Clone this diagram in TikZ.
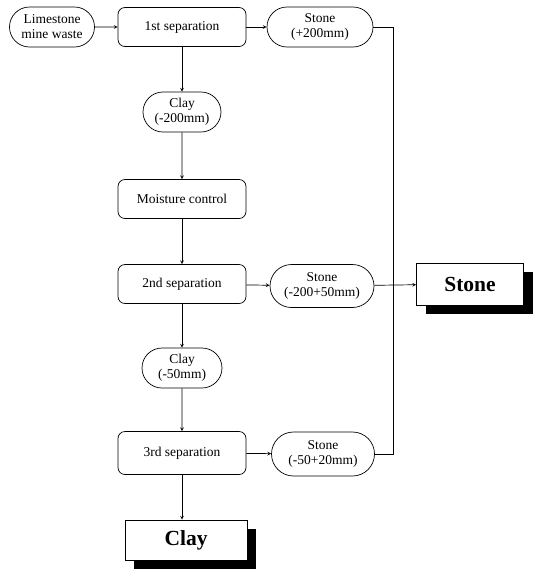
\documentclass[tikz,border=0pt]{standalone}
\usepackage{fontspec}
\setmainfont{Liberation Serif}
\usepackage{tikz}
\usetikzlibrary{positioning,arrows,shapes.misc,shadows}

\begin{document}
\begin{tikzpicture}[x=1pt,y=-1pt,>=stealth,line width=0.7pt,
	font=\fontsize{13.5}{15}\selectfont,
	proc/.style={draw,rounded corners=7pt,minimum width=128pt,minimum height=39pt},
	prod/.style={draw,rounded rectangle,align=center,minimum height=40pt,inner sep=2pt},
	final/.style={draw,fill=white,minimum width=112pt,minimum height=42pt,font=\fontsize{21.5}{24}\selectfont\bfseries,
		drop shadow={shadow xshift=9pt,shadow yshift=-9pt,fill=black,opacity=1}}]
	\useasboundingbox (0,0) rectangle (535,571);

	\node[prod,minimum width=89pt] (lime) at (52,27) {Limestone\\mine waste};
	\node[proc] (sep1) at (182,27) {1st separation};
	\node[prod,minimum width=110pt] (st1) at (320,27) {Stone\\(+200mm)};
	\node[prod,minimum width=82pt] (clay1) at (182,112) {Clay\\(-200mm)};
	\node[proc] (moist) at (182,199) {Moisture control};
	\node[proc] (sep2) at (182,284) {2nd separation};
	\node[prod,minimum width=108pt,minimum height=43pt] (st2) at (322,286) {Stone\\(-200+50mm)};
	\node[final,minimum width=107pt] (stone) at (470,284) {Stone};
	\node[prod,minimum width=84pt] (clay2) at (182,368) {Clay\\(-50mm)};
	\node[proc,minimum height=43pt] (sep3) at (182,453) {3rd separation};
	\node[prod,minimum width=107pt,minimum height=44pt] (st3) at (323,454) {Stone\\(-50+20mm)};
	\node[final,minimum width=122pt,minimum height=40pt] (clay) at (186,540) {Clay};
	\coordinate (bus) at (393,284);

	\draw[->] (lime) -- (sep1);
	\draw[->] (sep1) -- (st1);
	\draw[->] (sep1) -- (clay1);
	\draw[->] (clay1) -- (moist);
	\draw[->] (moist) -- (sep2);
	\draw[->] (sep2) -- (st2);
	\draw[->] (sep2) -- (clay2);
	\draw[->] (clay2) -- (sep3);
	\draw[->] (sep3) -- (st3);
	\draw[->] (sep3) -- (clay.north -| sep3);
	\draw (st1) -| (bus);
	\draw (st3) -| (bus);
	\draw[->] (st2) -- (stone);
\end{tikzpicture}
\end{document}
